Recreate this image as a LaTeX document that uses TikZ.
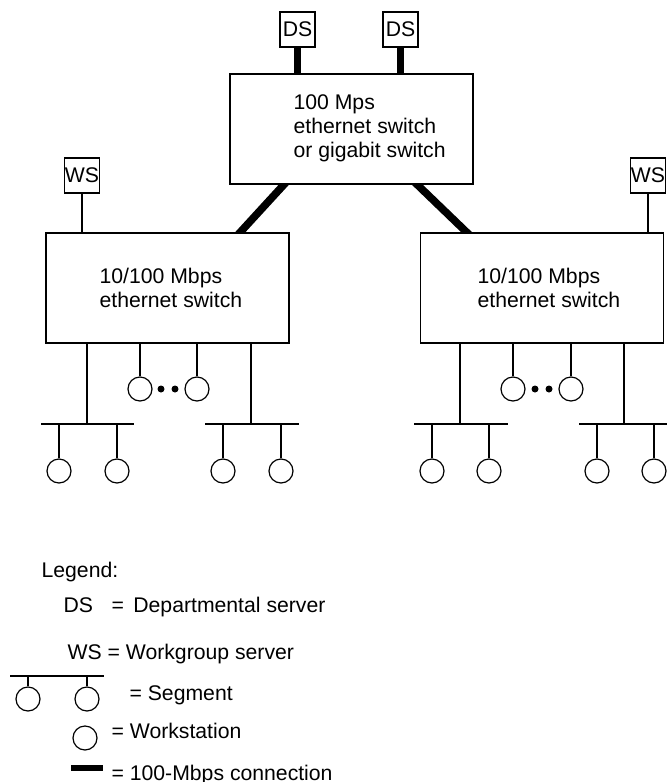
\documentclass[tikz,border=0pt]{standalone}
\usepackage{fontspec}
\setmainfont{Liberation Sans}
\usetikzlibrary{calc,backgrounds}

\tikzset{
  box/.style={draw, fill=white, minimum width=121.5pt, minimum height=55pt, inner sep=0pt},
  srv/.style={draw, fill=white, minimum width=17.5pt, minimum height=17.5pt, inner sep=0pt, font=\fontsize{10.6}{12}\selectfont},
  stn/.style={draw, circle, fill=white, minimum size=12pt, inner sep=0pt},
  lbl/.style={inner sep=0pt, anchor=base west, align=left, font=\fontsize{10.6}{11.8}\selectfont},
  fat/.style={line width=3.8pt},
  segbar/.style={line width=1.2pt},
}

\begin{document}
\begin{tikzpicture}[x=0.5pt, y=-0.5pt, line width=0.6pt]
\useasboundingbox (0,0) rectangle (666,782);

% switches
\node[box] (core) at (351.5,129) {};
\node[box] (swL) at (167.5,288) {};
\node[box] (swR) at (542,288) {};
\node[lbl] (coretxt) at (293,157) {100 Mps\\ethernet switch\\or gigabit switch};
\node[lbl] (swLtxt) at (99,307) {10/100 Mbps\\ethernet switch};
\node[lbl] (swRtxt) at (477,307) {10/100 Mbps\\ethernet switch};

% servers
\node[srv] (ds1) at (297.5,29.5) {DS};
\node[srv] (ds2) at (400.5,29.5) {DS};
\node[srv] (wsL) at (82,175.5) {WS};
\node[srv] (wsR) at (648,175.5) {WS};

\draw[fat] (ds1.south) -- (ds1.south |- core.north);
\draw[fat] (ds2.south) -- (ds2.south |- core.north);
\draw (wsL.south) -- (wsL.south |- swL.north);
\draw (wsR.south) -- (wsR.south |- swR.north);
\begin{scope}[on background layer]
\draw[fat] ($(core.south)+(-63,-5)$) -- ($(swL.north)+(68,5)$);
\draw[fat] ($(core.south)+(60.5,-5)$) -- ($(swR.north)+(-70,5)$);
\end{scope}

% left switch
\coordinate (jL1) at (87,424);
\coordinate (jL2) at (251,424);
\draw (jL1 |- swL.south) -- (jL1);
\draw (jL2 |- swL.south) -- (jL2);
\draw[segbar] (41,424) -- (jL1);
\draw (jL1) -- (134,424);
\draw[segbar] (205,424) -- (jL2);
\draw (jL2) -- (299,424);
\node[stn] (l0a) at (140,389) {};
\node[stn] (l0b) at (197,389) {};
\draw (l0a) -- (l0a |- swL.south);
\draw (l0b) -- (l0b |- swL.south);
\fill (161,389) circle (3.5);
\fill (175,389) circle (3.5);
\node[stn] (l1a) at (59,471) {};
\node[stn] (l1b) at (117,471) {};
\node[stn] (l2a) at (223,471) {};
\node[stn] (l2b) at (281,471) {};
\draw (l1a) -- (l1a |- jL1);
\draw (l1b) -- (l1b |- jL1);
\draw (l2a) -- (l2a |- jL2);
\draw (l2b) -- (l2b |- jL2);

% right switch
\coordinate (jR1) at (460,424);
\coordinate (jR2) at (624,424);
\draw (jR1 |- swR.south) -- (jR1);
\draw (jR2 |- swR.south) -- (jR2);
\draw[segbar] (414,424) -- (jR1);
\draw (jR1) -- (508,424);
\draw[segbar] (579,424) -- (jR2);
\draw (jR2) -- (672,424);
\node[stn] (r0a) at (513,389) {};
\node[stn] (r0b) at (571,389) {};
\draw (r0a) -- (r0a |- swR.south);
\draw (r0b) -- (r0b |- swR.south);
\fill (535,389) circle (3.5);
\fill (549,389) circle (3.5);
\node[stn] (r1a) at (432,471) {};
\node[stn] (r1b) at (489,471) {};
\node[stn] (r2a) at (597,471) {};
\node[stn] (r2b) at (654,471) {};
\draw (r1a) -- (r1a |- jR1);
\draw (r1b) -- (r1b |- jR1);
\draw (r2a) -- (r2a |- jR2);
\draw (r2b) -- (r2b |- jR2);

% legend
\node[lbl] (leg) at (41,577) {Legend:};
\node[lbl] (legds) at (63,612) {DS};
\node[lbl] (legdstxt) at (111,612) {=\, Departmental server};
\node[lbl] (legws) at (67,659) {WS = Workgroup server};
\coordinate (segA) at (10,676);
\coordinate (segB) at (104,676);
\draw (segA) -- (segB);
\node[stn] (sega) at (28,699) {};
\node[stn] (segb) at (87,699) {};
\draw (sega) -- (sega |- segA);
\draw (segb) -- (segb |- segA);
\node[lbl] (legseg) at (129,700) {= Segment};
\node[stn] (legstn) at (85,738) {};
\node[lbl] (legstntxt) at (111,738) {= Workstation};
\fill (71,765) rectangle (103,771);
\node[lbl] (legfat) at (111,780) {= 100-Mbps connection};
\end{tikzpicture}
\end{document}
